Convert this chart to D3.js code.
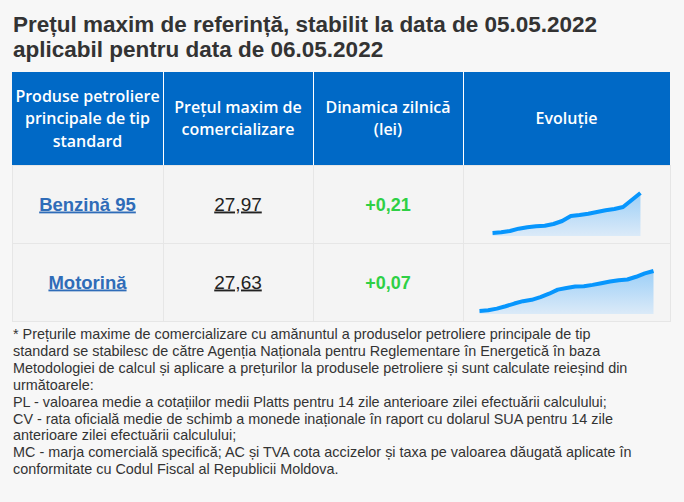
<!DOCTYPE html>
<html>
<head>
<meta charset="utf-8">
<script src="https://cdn.jsdelivr.net/npm/d3@7"></script>
<style>
  html, body { margin: 0; padding: 0; background: #f7f7f7; }
  svg { display: block; }
</style>
</head>
<body>
<div id="chart"></div>
<script>
// --- data ---
var titleLines = [
    "Prețul maxim de referință, stabilit la data de 05.05.2022",
    "aplicabil pentru data de 06.05.2022"
];
var headers = [
    ["Produse petroliere", "principale de tip", "standard"],
    ["Prețul maxim de", "comercializare"],
    ["Dinamica zilnică", "(lei)"],
    ["Evoluție"]
];
var products = ["Benzină 95", "Motorină"];
var prices = ["27,97", "27,63"];
var changes = ["+0,21", "+0,07"];
var benzinaSeries = [26.77, 26.79, 26.83, 26.90, 26.94, 26.97, 26.99, 27.04, 27.13,
    27.28, 27.31, 27.35, 27.40, 27.45, 27.49, 27.55, 27.76, 27.97];
var motorinaSeries = [26.45, 26.47, 26.52, 26.59, 26.67, 26.74, 26.78, 26.86, 26.96,
    27.08, 27.13, 27.17, 27.18, 27.22, 27.27, 27.32, 27.36, 27.38, 27.46, 27.56, 27.63];
var series = [benzinaSeries, motorinaSeries];
var footnoteLines = [
    "* Prețurile maxime de comercializare cu amănuntul a produselor petroliere principale de tip",
    "standard se stabilesc de către Agenția Naționala pentru Reglementare în Energetică în baza",
    "Metodologiei de calcul și aplicare a prețurilor la produsele petroliere și sunt calculate reieșind din",
    "următoarele:",
    "PL - valoarea medie a cotațiilor medii Platts pentru 14 zile anterioare zilei efectuării calculului;",
    "CV - rata oficială medie de schimb a monede inaționale în raport cu dolarul SUA pentru 14 zile",
    "anterioare zilei efectuării calculului;",
    "MC - marja comercială specifică; AC și TVA cota accizelor și taxa pe valoarea dăugată aplicate în",
    "conformitate cu Codul Fiscal al Republicii Moldova."
];

// --- layout ---
var width = 684, height = 502;
var colEdges = [12, 163, 313, 463, 670];
var headTop = 72, headBottom = 165, rowH = 78;
var sparkStep = 8.7;

var svg = d3.select("#chart").append("svg")
    .attr("width", width)
    .attr("height", height);

svg.append("rect").attr("width", width).attr("height", height).attr("fill", "#f7f7f7");

// title
svg.append("g").selectAll("text")
    .data(titleLines)
    .join("text")
    .attr("x", 13)
    .attr("y", function(d, i) { return 32.3 + i * 24.5; })
    .attr("font-family", "Liberation Sans, Arial, sans-serif")
    .attr("font-weight", "bold")
    .attr("font-size", 22.5)
    .attr("fill", "#333")
    .text(function(d) { return d; });

// header
var head = svg.append("g");
head.append("rect")
    .attr("x", colEdges[0]).attr("y", headTop)
    .attr("width", colEdges[4] - colEdges[0]).attr("height", headBottom - headTop)
    .attr("fill", "#0069c6");

headers.forEach(function(lines, c) {
    var cx = (colEdges[c] + colEdges[c + 1]) / 2,
        cy = (headTop + headBottom) / 2;
    head.append("g").selectAll("text")
        .data(lines)
        .join("text")
        .attr("x", cx)
        .attr("y", function(d, i) { return cy + 5.5 + (i - (lines.length - 1) / 2) * 22.5; })
        .attr("text-anchor", "middle")
        .attr("font-family", "Open Sans, sans-serif")
        .attr("font-weight", 600)
        .attr("font-size", 16)
        .attr("fill", "#fff")
        .text(function(d) { return d; });
});
head.selectAll("line.sep")
    .data(colEdges.slice(1, 4))
    .join("line")
    .attr("class", "sep")
    .attr("x1", function(d) { return d + 0.5; }).attr("x2", function(d) { return d + 0.5; })
    .attr("y1", headTop).attr("y2", headBottom)
    .attr("stroke", "#fff").attr("stroke-width", 1);

// gradient for sparkline areas
var grad = svg.append("defs").append("linearGradient")
    .attr("id", "sparkFill").attr("x1", 0).attr("x2", 0).attr("y1", 0).attr("y2", 1);
grad.append("stop").attr("offset", "0%").attr("stop-color", "#9ccff7");
grad.append("stop").attr("offset", "100%").attr("stop-color", "#dbeaf8");

// body rows
var rows = svg.append("g").selectAll("g.row")
    .data(products)
    .join("g")
    .attr("class", "row")
    .attr("transform", function(d, i) { return "translate(0," + (headBottom + i * rowH) + ")"; });

rows.append("rect")
    .attr("x", colEdges[0] + 0.5).attr("y", 0.5)
    .attr("width", colEdges[4] - colEdges[0]).attr("height", rowH)
    .attr("fill", "#f4f4f4")
    .attr("stroke", "#e6e6e6");

rows.selectAll("line.sep")
    .data(colEdges.slice(1, 4))
    .join("line")
    .attr("class", "sep")
    .attr("x1", function(d) { return d + 0.5; }).attr("x2", function(d) { return d + 0.5; })
    .attr("y1", 0).attr("y2", rowH)
    .attr("stroke", "#e6e6e6");

var mid = function(c) { return (colEdges[c] + colEdges[c + 1]) / 2; };
var baseY = rowH / 2 + 6.5;

rows.append("text")
    .attr("x", mid(0)).attr("y", baseY)
    .attr("text-anchor", "middle")
    .attr("font-family", "Liberation Sans, Arial, sans-serif")
    .attr("font-weight", "bold")
    .attr("font-size", 18.5)
    .attr("fill", "#2f6cb8")
    .style("text-decoration", "underline")
    .text(function(d) { return d; });

rows.append("text")
    .attr("x", mid(1)).attr("y", baseY)
    .attr("text-anchor", "middle")
    .attr("font-family", "Liberation Sans, Arial, sans-serif")
    .attr("font-size", 19)
    .attr("fill", "#222")
    .style("text-decoration", "underline")
    .text(function(d, i) { return prices[i]; });

rows.append("text")
    .attr("x", mid(2)).attr("y", baseY)
    .attr("text-anchor", "middle")
    .attr("font-family", "Liberation Sans, Arial, sans-serif")
    .attr("font-weight", "bold")
    .attr("font-size", 18)
    .attr("fill", "#2ed045")
    .text(function(d, i) { return changes[i]; });

// sparklines
rows.each(function(d, i) {
    var vals = series[i],
        w = (vals.length - 1) * sparkStep,
        x0 = mid(3) - w / 2;
    var x = d3.scaleLinear().domain([0, vals.length - 1]).range([x0, x0 + w]);
    var y = d3.scaleLinear().domain(d3.extent(vals)).range([68, 28]);
    var g = d3.select(this).append("g");
    g.append("path")
        .datum(vals)
        .attr("fill", "url(#sparkFill)")
        .attr("d", d3.area()
            .x(function(v, k) { return x(k); })
            .y0(71)
            .y1(function(v) { return y(v); }));
    g.append("path")
        .datum(vals)
        .attr("fill", "none")
        .attr("stroke", "#0796fd")
        .attr("stroke-width", 4)
        .attr("stroke-linejoin", "round")
        .attr("d", d3.line()
            .x(function(v, k) { return x(k); })
            .y(function(v) { return y(v); }));
});

// footnote
svg.append("g").selectAll("text")
    .data(footnoteLines)
    .join("text")
    .attr("x", 13)
    .attr("y", function(d, i) { return 339 + i * 16.9; })
    .attr("font-family", "Liberation Sans, Arial, sans-serif")
    .attr("font-size", 14.4)
    .attr("fill", "#333")
    .text(function(d) { return d; });
</script>
</body>
</html>
